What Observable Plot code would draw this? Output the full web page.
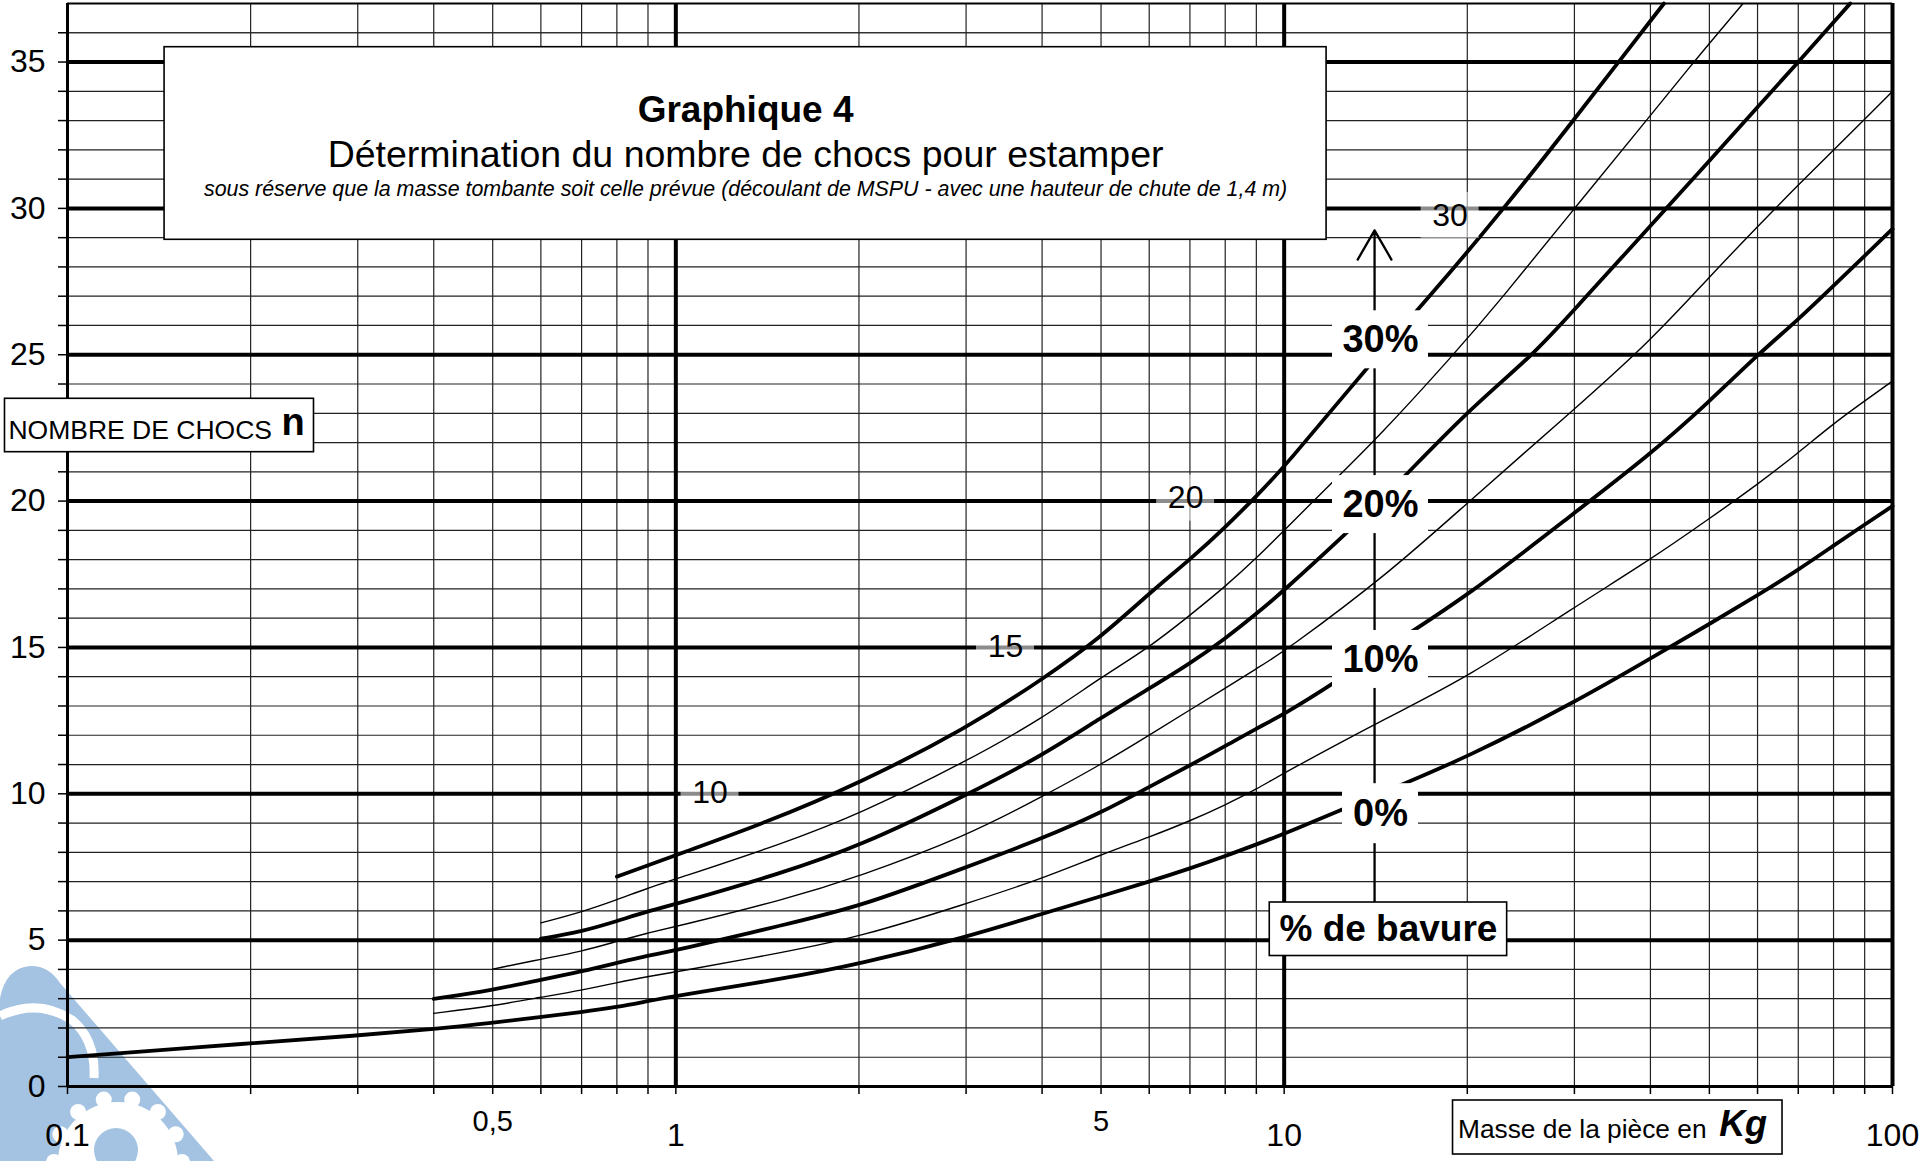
<!DOCTYPE html>
<html>
<head>
<meta charset="utf-8">
<script src="https://cdn.jsdelivr.net/npm/d3@7"></script>
<script src="https://cdn.jsdelivr.net/npm/@observablehq/plot@0.6"></script>
<style>
html, body { margin: 0; padding: 0; background: #fff; }
svg { display: block; }
</style>
</head>
<body>
<div id="chart"></div>
<script>
// ---- Data (masse en kg -> nombre de chocs) ----
const mass0  = [0.1,0.2,0.3,0.4,0.5,0.6,0.7,0.8,0.9,1,1.5,2,3,4,5,6,7,8,9,10,15,20,30,40,50,60,70,80,90,100];
const chocs0 = [1.0,1.48,1.74,1.96,2.17,2.38,2.54,2.71,2.92,3.1,3.68,4.18,5.1,5.9,6.5,7.0,7.45,7.87,8.27,8.63,10.16,11.25,13.12,14.62,15.8,16.78,17.65,18.48,19.2,19.83];

const mass5  = [0.4,0.5,0.6,0.7,0.8,0.9,1,1.5,2,3,4,5,6,7,8,9,10,15,20,30,40,50,60,70,80,90,100];
const chocs5 = [2.5,2.75,3.05,3.29,3.55,3.76,3.91,4.58,5.1,6.24,7.1,7.92,8.52,9.07,9.62,10.15,10.72,12.68,13.97,16.38,18.0,19.4,20.57,21.65,22.65,23.42,24.1];

const mass10  = [0.4,0.5,0.6,0.7,0.8,0.9,1,1.5,2,3,4,5,6,7,8,9,10,12,15,20,30,40,50,60,70,80,90,100];
const chocs10 = [2.99,3.3,3.64,3.93,4.22,4.48,4.64,5.52,6.13,7.49,8.47,9.35,10.24,10.97,11.63,12.23,12.72,13.74,15.1,16.75,19.6,21.6,23.4,25.0,26.2,27.36,28.38,29.3];

const mass15  = [0.5,0.6,0.7,0.8,0.9,1,1.5,2,3,4,5,6,7,8,9,10,15,20,30,40,50,60,70,80,90,100];
const chocs15 = [4.01,4.35,4.61,4.96,5.25,5.46,6.37,7.17,8.55,9.9,11.0,12.0,12.87,13.6,14.28,14.85,17.6,19.94,23.14,25.47,27.66,29.38,30.8,31.99,33.05,34.0];

const mass20  = [0.6,0.7,0.8,0.9,1,1.5,2,3,4,5,6,7,8,9,10,12.5,15,20,25.7,30,40,50,60,70,80,85.2];
const chocs20 = [5.05,5.29,5.65,5.99,6.23,7.3,8.2,9.95,11.3,12.6,13.6,14.45,15.3,16.15,16.95,18.8,20.36,23.08,25.0,26.55,29.4,31.62,33.46,35.0,36.36,37];

const mass25  = [0.6,0.7,0.8,0.9,1,1.5,2,3,4,5,6,7,8,9,10,12,14.1,18.9,22.6,30,40,47.1,56.8];
const chocs25 = [5.59,5.96,6.38,6.78,7.09,8.3,9.3,11.1,12.57,13.98,15.0,16.1,17.08,18.05,19.0,20.65,22.06,24.95,26.83,30.0,33.17,35,37];

const mass30  = [0.8,0.9,1,1.4,2,3,4,5,6,7,8,9,10,13.6,17.7,23,30,35.45,42.1];
const chocs30 = [7.17,7.55,7.91,9.0,10.35,12.23,13.9,15.35,16.85,18.0,19.1,20.17,21.15,24.5,27.2,30,33.05,35,37];

const seriesNames = ["0%","5%","10%","15%","20%","25%","30%"];
const seriesThick = [true,false,true,false,true,false,true];
const seriesMass  = [mass0,mass5,mass10,mass15,mass20,mass25,mass30];
const seriesChocs = [chocs0,chocs5,chocs10,chocs15,chocs20,chocs25,chocs30];

// Axis / grid values
const xGridMinor = [0.2,0.3,0.4,0.5,0.6,0.7,0.8,0.9,2,3,4,5,6,7,8,9,20,30,40,50,60,70,80,90];
const xGridMajor = [1,10];
const xTickValues = [0.1,0.2,0.3,0.4,0.5,0.6,0.7,0.8,0.9,1,2,3,4,5,6,7,8,9,10,20,30,40,50,60,70,80,90,100];
const xLabelsMain = [{v:0.1,t:"0.1"},{v:1,t:"1"},{v:10,t:"10"},{v:100,t:"100"}];
const xLabelsMinor = [{v:0.5,t:"0,5"},{v:5,t:"5"}];
const yAll = d3.range(0, 37);
const yGridMajor = [5,10,15,20,25,30,35];
const yGridMinor = yAll.filter(v => v > 0 && v % 5 !== 0).concat([36]);
const yLabels = [0,5,10,15,20,25,30,35];

// Curve value labels on the grid lines
const curveLabels = [
  {mass:1.138, chocs:10.05, label:"10"},
  {mass:3.483, chocs:15.04, label:"15"},
  {mass:6.887, chocs:20.1,  label:"20"},
  {mass:18.74, chocs:29.76, label:"30"}
];
// % de bavure labels along the arrow
const pctLabels = [
  {mass:14.4, chocs:25.51, label:"30%", hw:48, hh:29},
  {mass:14.4, chocs:19.88, label:"20%", hw:48, hh:29},
  {mass:14.4, chocs:14.59, label:"10%", hw:48, hh:29},
  {mass:14.4, chocs:9.32,  label:"0%",  hw:38, hh:30}
];

const curveData = seriesNames.flatMap((name, s) =>
  seriesMass[s].map((m, i) => ({serie: name, thick: seriesThick[s], mass: m, chocs: seriesChocs[s][i]})));

// Decorative watermark (logo) in the lower-left corner
const watermark = () => {
  const g = d3.create("svg:g");
  const blue = "#a4c3e2";
  g.append("path").attr("d", "M0,998 Q6,968 30,966 Q48,965 60,983 L214,1161 L0,1161 Z").attr("fill", blue);
  g.append("path").attr("d", "M0,1016 Q38,998 72,1020 Q96,1040 94,1078").attr("fill", "none").attr("stroke", "white").attr("stroke-width", 9);
  const gear = g.append("g").attr("fill", "white");
  gear.append("circle").attr("cx", 118).attr("cy", 1162).attr("r", 60);
  for (let k = 0; k < 14; k++) {
    const a = k / 14 * 2 * Math.PI;
    gear.append("circle").attr("cx", 118 + 64 * Math.cos(a)).attr("cy", 1162 + 64 * Math.sin(a)).attr("r", 8);
  }
  g.append("circle").attr("cx", 116).attr("cy", 1150).attr("r", 22).attr("fill", blue);
  return g.node();
};

const box = (x, y, hw, hh) => Plot.rect([{x, y}], {
  x1: "x", x2: "x", y1: "y", y2: "y",
  insetLeft: -hw, insetRight: -hw, insetTop: -hh, insetBottom: -hh,
  fill: "white", stroke: "black", strokeWidth: 1.6
});

const font = "'Liberation Sans', Arial, Helvetica, sans-serif";

const chart = Plot.plot({
  width: 1921,
  height: 1161,
  marginLeft: 67,
  marginRight: 29,
  marginTop: 3,
  marginBottom: 75,
  x: {type: "log", domain: [0.1, 100], axis: null},
  y: {domain: [0, 37], axis: null},
  style: {fontFamily: font, background: "white", overflow: "visible"},
  marks: [
    watermark,
    // grid
    Plot.ruleX(xGridMinor, {stroke: "#222", strokeWidth: 1.2}),
    Plot.ruleY(yGridMinor, {stroke: "#222", strokeWidth: 1.2}),
    Plot.ruleX(xGridMajor, {stroke: "black", strokeWidth: 4}),
    Plot.ruleY(yGridMajor, {stroke: "black", strokeWidth: 4}),
    Plot.ruleX([0.1], {stroke: "black", strokeWidth: 3}),
    Plot.ruleX([100], {stroke: "black", strokeWidth: 4}),
    Plot.ruleY([0], {stroke: "black", strokeWidth: 2.8}),
    Plot.ruleY([37], {stroke: "black", strokeWidth: 2}),
    // ticks
    Plot.ruleY(yAll, {x1: 0.1, x2: 0.1, insetLeft: -9, stroke: "black", strokeWidth: 1.5}),
    Plot.ruleX(xTickValues, {y1: 0, y2: 0, insetBottom: -8, stroke: "black", strokeWidth: 1.5}),
    // curves
    Plot.line(curveData.filter(d => !d.thick), {x: "mass", y: "chocs", z: "serie", stroke: "black", strokeWidth: 1.4, curve: "basis"}),
    Plot.line(curveData.filter(d => d.thick), {x: "mass", y: "chocs", z: "serie", stroke: "black", strokeWidth: 3.8, curve: "basis"}),
    // curve value labels
    Plot.rect(curveLabels, {x1: "mass", x2: "mass", y1: "chocs", y2: "chocs", insetLeft: -29, insetRight: -29, insetTop: -23, insetBottom: -23, fill: "white", fillOpacity: 0.55}),
    Plot.text(curveLabels, {x: "mass", y: "chocs", text: "label", fontSize: 32, fill: "black"}),
    // arrow
    Plot.arrow([{x: 14.08, y1: 6.29, y2: 29.25}], {x1: "x", x2: "x", y1: "y1", y2: "y2", stroke: "black", strokeWidth: 2.3, headLength: 22, headAngle: 60}),
    // % labels
    ...pctLabels.map(d => Plot.rect([d], {x1: "mass", x2: "mass", y1: "chocs", y2: "chocs", insetLeft: -d.hw, insetRight: -d.hw, insetTop: -d.hh, insetBottom: -d.hh, fill: "white"})),
    Plot.text(pctLabels, {x: "mass", y: "chocs", text: "label", fontSize: 38, fontWeight: "bold", fill: "black"}),
    // title box
    box(1.3021, 32.217, 581, 96.3),
    Plot.text(["Graphique 4"], {x: 1.3021, y: 33.37, text: d => d, fontSize: 37, fontWeight: "bold", fill: "black"}),
    Plot.text(["Détermination du nombre de chocs pour estamper"], {x: 1.3021, y: 31.83, text: d => d, fontSize: 37.5, fill: "black"}),
    Plot.text(["sous réserve que la masse tombante soit celle prévue (découlant de MSPU - avec une hauteur de chute de 1,4 m)"], {x: 1.3021, y: 30.65, text: d => d, fontSize: 21.4, fontStyle: "italic", fill: "black"}),
    // y axis title box
    box(0.14165, 22.583, 154.5, 26.7),
    Plot.text(["NOMBRE DE CHOCS"], {x: 0.07997, y: 22.42, text: d => d, fontSize: 26.5, textAnchor: "start", fill: "black"}),
    Plot.text(["n"], {x: 0.2247, y: 22.66, text: d => d, fontSize: 38, fontWeight: "bold", textAnchor: "start", fill: "black"}),
    // % de bavure box
    box(14.84, 5.372, 118.7, 26.75),
    Plot.text(["% de bavure"], {x: 14.84, y: 5.372, text: d => d, fontSize: 37, fontWeight: "bold", fill: "black"}),
    // x axis title box
    box(35.35, -1.401, 164.75, 27),
    Plot.text(["Masse de la pièce en"], {x: 19.31, y: -1.476, text: d => d, fontSize: 26.3, textAnchor: "start", fill: "black"}),
    Plot.text(["Kg"], {x: 51.88, y: -1.31, text: d => d, fontSize: 36, fontWeight: "bold", fontStyle: "italic", textAnchor: "start", fill: "black"}),
    // tick labels
    Plot.text(yLabels, {x: 0.1, y: d => d, text: d => String(d), dx: -22, textAnchor: "end", fontSize: 32, fill: "black"}),
    Plot.text(xLabelsMain, {x: "v", y: 0, text: "t", dy: 49, fontSize: 32, fill: "black"}),
    Plot.text(xLabelsMinor, {x: "v", y: 0, text: "t", dy: 35, fontSize: 29, fill: "black"})
  ]
});

document.getElementById("chart").append(chart);
</script>
</body>
</html>
